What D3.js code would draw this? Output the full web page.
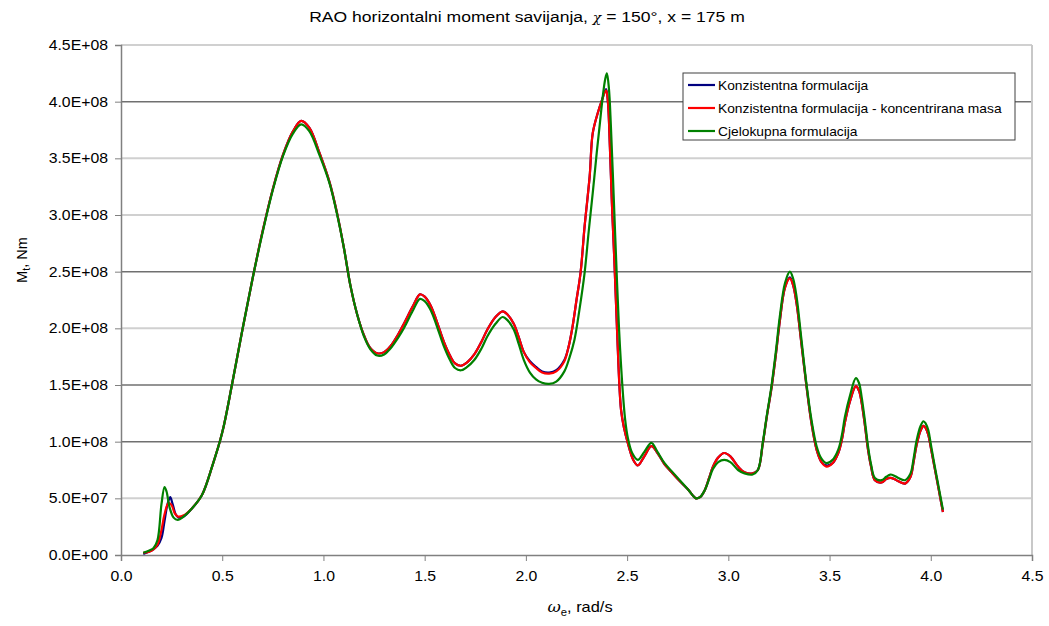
<!DOCTYPE html>
<html><head><meta charset="utf-8">
<script src="https://cdn.jsdelivr.net/npm/d3@7"></script>
<style>
body{margin:0;background:#fff;}
text{font-family:"Liberation Sans",Arial,sans-serif;fill:#000;}
</style></head>
<body><svg id="c" width="1049" height="626"></svg>
<script>
// omega (rad/s) and moment values (x1e8 Nm)
const blueW = [0.11,0.14,0.16,0.18,0.20,0.215,0.23,0.243,0.255,0.27,0.285,0.31,0.35,0.40,0.45,0.50,0.55,0.60,0.65,0.70,0.75,0.80,0.85,0.89,0.93,0.98,1.03,1.068,1.10,1.134,1.167,1.20,1.23,1.266,1.30,1.33,1.37,1.40,1.44,1.477,1.50,1.53,1.56,1.595,1.625,1.65,1.68,1.71,1.745,1.78,1.81,1.85,1.885,1.91,1.94,1.965,1.99,2.02,2.05,2.08,2.115,2.15,2.19,2.21,2.23,2.25,2.27,2.29,2.315,2.33,2.355,2.375,2.396,2.405,2.415,2.425,2.437,2.45,2.47,2.485,2.503,2.53,2.553,2.585,2.62,2.65,2.685,2.72,2.75,2.80,2.84,2.86,2.883,2.905,2.924,2.95,2.98,3.01,3.048,3.08,3.12,3.146,3.17,3.19,3.213,3.235,3.254,3.28,3.304,3.32,3.337,3.36,3.386,3.41,3.436,3.46,3.485,3.515,3.543,3.56,3.576,3.60,3.63,3.645,3.658,3.675,3.69,3.705,3.724,3.757,3.78,3.80,3.82,3.84,3.873,3.90,3.915,3.93,3.95,3.964,3.975,3.988,4.00,4.02,4.04,4.06];
const blueM = [0.01,0.03,0.05,0.08,0.15,0.30,0.45,0.51,0.45,0.36,0.33,0.34,0.41,0.53,0.78,1.08,1.52,1.99,2.44,2.86,3.23,3.53,3.74,3.83,3.77,3.55,3.29,3.01,2.72,2.37,2.12,1.94,1.83,1.78,1.79,1.84,1.95,2.05,2.19,2.30,2.28,2.20,2.06,1.88,1.76,1.69,1.67,1.70,1.77,1.88,1.99,2.10,2.15,2.12,2.04,1.92,1.79,1.71,1.66,1.62,1.61,1.63,1.72,1.83,2.01,2.25,2.49,2.90,3.34,3.72,3.90,4.01,4.11,4.00,3.60,3.10,2.60,2.00,1.28,1.12,0.99,0.84,0.79,0.87,0.96,0.90,0.80,0.73,0.67,0.58,0.50,0.51,0.57,0.68,0.78,0.86,0.90,0.87,0.78,0.73,0.72,0.75,0.98,1.22,1.47,1.77,2.06,2.36,2.45,2.38,2.22,1.88,1.49,1.17,0.93,0.82,0.79,0.81,0.90,1.01,1.17,1.35,1.49,1.45,1.35,1.14,0.93,0.78,0.66,0.64,0.67,0.68,0.67,0.65,0.63,0.69,0.82,0.97,1.10,1.14,1.12,1.06,0.95,0.76,0.57,0.38];

const redW = [0.11,0.14,0.16,0.18,0.20,0.215,0.235,0.25,0.265,0.28,0.31,0.35,0.40,0.45,0.50,0.55,0.60,0.65,0.70,0.75,0.80,0.85,0.89,0.93,0.98,1.03,1.068,1.10,1.134,1.167,1.20,1.23,1.266,1.30,1.33,1.37,1.40,1.44,1.477,1.50,1.53,1.56,1.595,1.625,1.65,1.68,1.71,1.745,1.78,1.81,1.85,1.885,1.91,1.94,1.965,1.99,2.02,2.05,2.08,2.115,2.15,2.19,2.21,2.23,2.25,2.27,2.29,2.315,2.33,2.355,2.375,2.396,2.405,2.415,2.425,2.437,2.45,2.47,2.485,2.503,2.53,2.553,2.585,2.62,2.65,2.685,2.72,2.75,2.80,2.84,2.86,2.883,2.905,2.924,2.95,2.98,3.01,3.048,3.08,3.12,3.146,3.17,3.19,3.213,3.235,3.254,3.28,3.304,3.32,3.337,3.36,3.386,3.41,3.436,3.46,3.485,3.515,3.543,3.56,3.576,3.60,3.63,3.645,3.658,3.675,3.69,3.705,3.724,3.757,3.78,3.80,3.82,3.84,3.873,3.90,3.915,3.93,3.95,3.964,3.975,3.988,4.00,4.02,4.04,4.06];
const redM = [0.02,0.03,0.05,0.09,0.22,0.36,0.46,0.44,0.37,0.34,0.35,0.41,0.53,0.78,1.08,1.52,1.99,2.44,2.86,3.23,3.53,3.74,3.83,3.77,3.55,3.29,3.01,2.72,2.37,2.12,1.94,1.83,1.78,1.79,1.84,1.95,2.05,2.19,2.30,2.28,2.20,2.06,1.88,1.76,1.69,1.67,1.70,1.77,1.88,1.99,2.10,2.15,2.12,2.04,1.92,1.79,1.70,1.65,1.61,1.60,1.62,1.71,1.83,2.01,2.25,2.49,2.90,3.34,3.72,3.90,4.01,4.10,4.00,3.60,3.10,2.60,2.00,1.28,1.12,0.99,0.84,0.79,0.87,0.96,0.90,0.80,0.73,0.67,0.58,0.50,0.51,0.57,0.68,0.78,0.86,0.90,0.87,0.78,0.73,0.72,0.75,0.98,1.22,1.47,1.77,2.06,2.36,2.44,2.38,2.22,1.88,1.49,1.17,0.93,0.82,0.78,0.81,0.90,1.01,1.17,1.35,1.49,1.45,1.35,1.14,0.93,0.78,0.66,0.64,0.67,0.68,0.67,0.65,0.63,0.69,0.82,0.97,1.10,1.14,1.12,1.06,0.95,0.76,0.57,0.38];

const greenW = [0.11,0.14,0.16,0.18,0.20,0.215,0.225,0.24,0.26,0.28,0.31,0.35,0.40,0.45,0.50,0.55,0.60,0.65,0.70,0.75,0.80,0.85,0.89,0.93,0.98,1.03,1.068,1.10,1.134,1.167,1.20,1.23,1.266,1.30,1.33,1.37,1.40,1.44,1.477,1.50,1.53,1.56,1.595,1.625,1.65,1.68,1.71,1.745,1.78,1.81,1.85,1.885,1.91,1.94,1.965,1.99,2.02,2.05,2.08,2.115,2.15,2.19,2.215,2.24,2.265,2.29,2.31,2.33,2.35,2.365,2.38,2.392,2.40,2.41,2.42,2.433,2.446,2.46,2.479,2.49,2.503,2.525,2.553,2.585,2.62,2.65,2.685,2.72,2.75,2.80,2.84,2.86,2.883,2.905,2.924,2.95,2.98,3.01,3.048,3.08,3.12,3.146,3.17,3.19,3.213,3.235,3.254,3.28,3.304,3.32,3.337,3.36,3.386,3.41,3.436,3.46,3.485,3.515,3.543,3.56,3.576,3.60,3.63,3.645,3.658,3.675,3.69,3.705,3.724,3.757,3.78,3.80,3.82,3.84,3.873,3.90,3.915,3.93,3.95,3.964,3.975,3.988,4.00,4.02,4.04,4.06];
const greenM = [0.02,0.04,0.06,0.13,0.45,0.60,0.56,0.42,0.33,0.31,0.34,0.41,0.53,0.78,1.08,1.52,1.99,2.44,2.85,3.22,3.52,3.72,3.80,3.74,3.53,3.28,3.00,2.72,2.37,2.12,1.93,1.82,1.76,1.77,1.82,1.92,2.01,2.15,2.26,2.24,2.16,2.02,1.84,1.72,1.65,1.63,1.66,1.72,1.82,1.93,2.04,2.10,2.07,1.99,1.86,1.72,1.61,1.55,1.52,1.51,1.53,1.62,1.74,1.90,2.17,2.49,2.85,3.19,3.55,3.80,4.05,4.20,4.25,4.12,3.78,3.20,2.60,2.00,1.43,1.20,1.04,0.90,0.84,0.91,0.99,0.91,0.81,0.74,0.68,0.58,0.50,0.51,0.57,0.67,0.76,0.82,0.84,0.82,0.75,0.72,0.71,0.75,0.99,1.23,1.49,1.80,2.10,2.40,2.50,2.44,2.28,1.92,1.51,1.20,0.96,0.85,0.81,0.84,0.93,1.05,1.22,1.40,1.56,1.52,1.40,1.18,0.96,0.80,0.68,0.66,0.69,0.71,0.70,0.68,0.66,0.72,0.85,1.01,1.14,1.18,1.16,1.10,0.98,0.78,0.59,0.40];

const yTicks = [0,0.5,1.0,1.5,2.0,2.5,3.0,3.5,4.0,4.5];
const yTickLabels = ["0.0E+00","5.0E+07","1.0E+08","1.5E+08","2.0E+08","2.5E+08","3.0E+08","3.5E+08","4.0E+08","4.5E+08"];
const xTicks = [0,0.5,1.0,1.5,2.0,2.5,3.0,3.5,4.0,4.5];
const seriesNames = ["Konzistentna formulacija","Konzistentna formulacija - koncentrirana masa","Cjelokupna formulacija"];
const seriesColors = ["#000080","#ff0000","#008000"];
const darkGrid = [1.0,1.5,2.5,4.0];

const SX = 1.13; // horizontal stretch of the reference lettering
const svg = d3.select("#c");
const L=121, R=1032, T=45, B=555;
const x = d3.scaleLinear().domain([0,4.5]).range([L,R]);
const y = d3.scaleLinear().domain([0,4.5]).range([B,T]);

// gridlines
svg.append("g").selectAll("line").data(yTicks.filter(d=>d>0)).join("line")
  .attr("x1",L).attr("x2",R).attr("y1",d=>y(d)).attr("y2",d=>y(d))
  .attr("stroke",d=>darkGrid.includes(d)?"#707070":"#d0d0d0")
  .attr("stroke-width",d=>darkGrid.includes(d)?1.5:2);
svg.append("line").attr("x1",R).attr("x2",R).attr("y1",T).attr("y2",B).attr("stroke","#c8c8c8").attr("stroke-width",2);

// axes
const yAxis = d3.axisLeft(y).tickValues(yTicks).tickFormat((d,i)=>yTickLabels[i]).tickSize(6).tickPadding(7);
const gy = svg.append("g").attr("transform",`translate(${L},0)`).call(yAxis);
gy.select(".domain").attr("stroke","#808080").attr("stroke-width",1.5);
gy.selectAll(".tick line").attr("stroke","#808080");
gy.selectAll("text").style("font-size","14px").attr("font-family","Liberation Sans, Arial").attr("fill","#000")
  .attr("x",-13/SX).attr("transform",`scale(${SX},1)`);

const xAxis = d3.axisBottom(x).tickValues(xTicks).tickFormat(d3.format(".1f")).tickSize(6).tickPadding(10);
const gx = svg.append("g").attr("transform",`translate(0,${B})`).call(xAxis);
gx.select(".domain").attr("stroke","#808080").attr("stroke-width",1.5);
gx.selectAll(".tick line").attr("stroke","#808080");
gx.selectAll("text").style("font-size","14px").attr("font-family","Liberation Sans, Arial").attr("fill","#000")
  .attr("transform",`scale(${SX},1)`);

// lines
const line = d3.line().x(d=>x(d[0])).y(d=>y(d[1])).curve(d3.curveCatmullRom.alpha(0.5));
const sets = [[blueW,blueM],[redW,redM],[greenW,greenM]];
sets.forEach((s,i)=>{
  const pts = s[0].map((w,j)=>[w,s[1][j]]);
  svg.append("path").datum(pts).attr("d",line).attr("fill","none")
    .attr("stroke",seriesColors[i]).attr("stroke-width",2.2).attr("stroke-linejoin","round");
});

// legend
const lg = svg.append("g");
lg.append("rect").attr("x",683).attr("y",73).attr("width",332).attr("height",67)
  .attr("fill","#fff").attr("stroke","#404040").attr("stroke-width",1);
seriesNames.forEach((n,i)=>{
  const yy = 85 + i*23;
  lg.append("line").attr("x1",688).attr("x2",715).attr("y1",yy).attr("y2",yy)
    .attr("stroke",seriesColors[i]).attr("stroke-width",2.2);
  lg.append("text").attr("transform",`translate(718,${yy+4.5}) scale(1.15,1)`).style("font-size","12px").text(n);
});

// title
const t = svg.append("text").attr("transform","translate(527,22) scale(1.17,1)").attr("text-anchor","middle").style("font-size","15px");
t.append("tspan").text("RAO horizontalni moment savijanja, ");
t.append("tspan").attr("font-style","italic").style("font-family","DejaVu Serif").style("font-size","12px").text("χ");
t.append("tspan").text(" = 150°, x = 175 m");

// x label
const xl = svg.append("text").attr("transform","translate(580,612) scale(1.13,1)").attr("text-anchor","middle").style("font-size","14.5px");
xl.append("tspan").style("font-family","DejaVu Serif").style("font-style","italic").text("ω");
xl.append("tspan").attr("dy",4).style("font-size","10px").text("e");
xl.append("tspan").attr("dy",-4).text(", rad/s");

// y label
const yl = svg.append("text").attr("transform","translate(27,260) rotate(-90)").attr("text-anchor","middle").style("font-size","14.5px");
yl.append("tspan").text("M");
yl.append("tspan").attr("dy",3).style("font-size","11px").text("t");
yl.append("tspan").attr("dy",-3).text(", Nm");
</script></body></html>
